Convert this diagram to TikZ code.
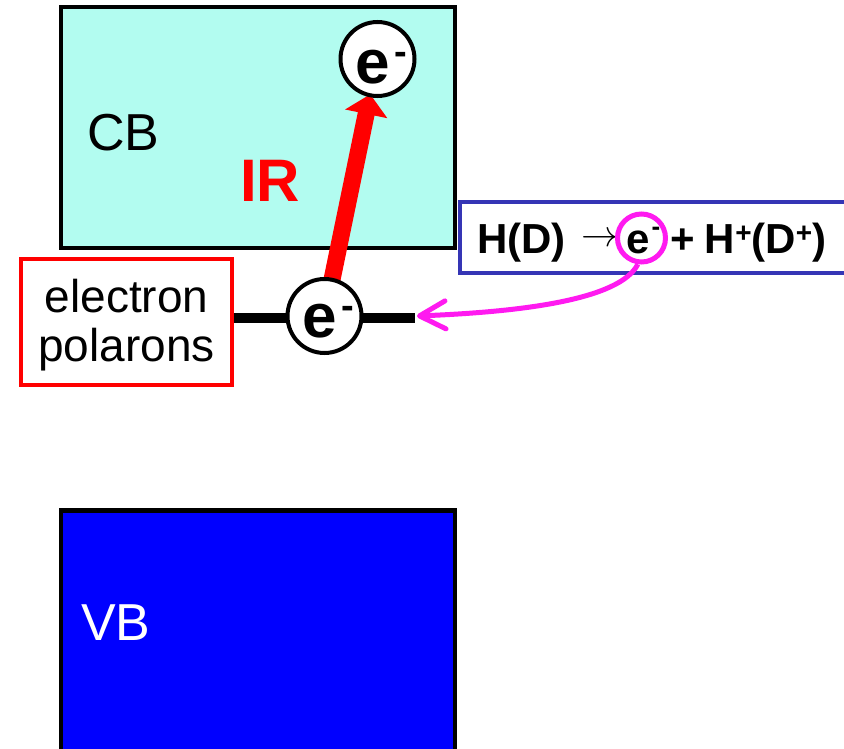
\documentclass[tikz,border=0pt]{standalone}
\usepackage{fontspec}
\setmainfont{Liberation Sans}
\usetikzlibrary{arrows.meta}
\pgfdeclarelayer{bg}
\pgfsetlayers{bg,main}
\definecolor{cbfill}{HTML}{B2FCF0}
\definecolor{hboxc}{HTML}{3535B5}
\definecolor{magc}{HTML}{FF1AF0}
\newcommand{\fsz}[1]{\fontsize{#1}{#1}\selectfont}
\newcommand{\elecC}[1]{\raisebox{#1}[\height][\depth]{\kern8pt\fsz{62}\bfseries e\kern4.5pt\raisebox{18.5pt}{\fsz{38}-}}}
\newcommand{\bigarrow}{\raisebox{6pt}{\scalebox{3.7}{\fsz{10}$\rightarrow$}}}
\begin{document}
\begin{tikzpicture}[x=1pt,y=-1pt,
  band/.style={draw=black, line width=4.5pt},
  ecirc/.style={circle, draw=black, line width=4pt, fill=white, minimum size=74pt, inner sep=0pt},
  txt/.style={inner sep=0pt, anchor=base west},
]
\useasboundingbox (0,0) rectangle (844,749);
\begin{pgfonlayer}{bg}
\fill[white] (0,0) rectangle (844,749);
\begin{scope}
\clip (0,0) rectangle (844,749);
\draw[band, fill=blue] (61,510.5) rectangle (455,760);
\draw[hboxc, line width=3.5pt, fill=white] (460,202) rectangle (860,273);
\end{scope}
\draw[band, fill=cbfill] (61,7) rectangle (455,248);
\end{pgfonlayer}

\node[txt, font=\fsz{52}] (cb) at (87,151) {CB};
\node[txt, font=\fsz{52}, text=white] (vb) at (81,640) {VB};
\node[txt, font=\fsz{60}\bfseries, text=red] (ir) at (240,202) {IR};

\node[draw=red, line width=3.5pt, minimum width=211pt, minimum height=126pt,
      font=\fontsize{46}{49}\selectfont, inner sep=0pt] (ep) at (126.5,322)
 {\raisebox{-5pt}[\height][\depth]{\begin{tabular}{@{}c@{}}electron\\polarons\end{tabular}}};

\coordinate (lR) at (415,317.5);
\draw[line width=10pt] (ep.east |- lR) -- (lR);

\node[ecirc] (e1) at (324.5,316) {\elecC{-5pt}};
\node[ecirc] (e2) at (377.5,59) {\elecC{-8pt}};

\begin{pgfonlayer}{bg}
\draw[red, line width=17pt, -{Triangle[length=20pt,width=42pt]}, shorten <=-4pt, shorten >=-3pt] (e1) -- (e2);
\end{pgfonlayer}

\node[txt, font=\fsz{42}\bfseries] (hd) at (477,253)
 {H(D)\hspace{15.5pt}\bigarrow\hspace{8pt}e\kern2pt\raisebox{18pt}{\fsz{26}-}\hspace{10.6pt}+\hspace{9.5pt}H\raisebox{11pt}{\fsz{28}+}(D\raisebox{11pt}{\fsz{28}+})};

\node[circle, draw=magc, line width=5pt, minimum size=48pt, inner sep=0pt] (mc) at (641.5,238) {};
\coordinate (tipM) at (417,316);
\draw[magc, line width=5pt, -{Straight Barb[length=26pt,width=28pt,round]}]
  (mc.262) .. controls (620,300) and (520,312) .. (tipM);
\end{tikzpicture}
\end{document}
